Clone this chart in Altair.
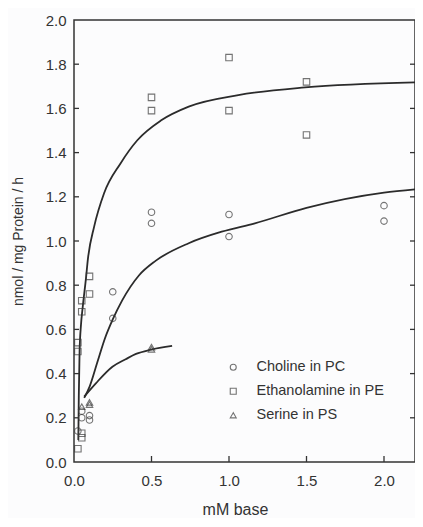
import altair as alt
import pandas as pd

# ---- data ----
series_names = ["Choline in PC", "Ethanolamine in PE", "Serine in PS"]
shapes = ["circle", "square", "triangle-up"]

cho_x = [0.025, 0.05, 0.05, 0.1, 0.1, 0.25, 0.25, 0.5, 0.5, 1.0, 1.0, 2.0, 2.0]
cho_y = [0.14, 0.20, 0.23, 0.19, 0.21, 0.77, 0.65, 1.13, 1.08, 1.12, 1.02, 1.16, 1.09]

eth_x = [0.025, 0.05, 0.05, 0.025, 0.025, 0.05, 0.05, 0.1, 0.1, 0.5, 0.5, 1.0, 1.0, 1.5, 1.5]
eth_y = [0.06, 0.11, 0.13, 0.54, 0.50, 0.73, 0.68, 0.84, 0.76, 1.65, 1.59, 1.83, 1.59, 1.72, 1.48]

ser_x = [0.05, 0.1, 0.1, 0.5, 0.5]
ser_y = [0.25, 0.26, 0.27, 0.52, 0.51]

eth_curve_x = [0.028, 0.031, 0.036, 0.045, 0.056, 0.077, 0.09, 0.13, 0.194, 0.30, 0.41, 0.56, 0.74, 1.06, 1.49, 2.2]
eth_curve_y = [0.10, 0.30, 0.50, 0.62, 0.70, 0.83, 0.92, 1.065, 1.216, 1.351, 1.457, 1.545, 1.608, 1.66, 1.695, 1.718]

cho_curve_x = [0.066, 0.10, 0.15, 0.20, 0.25, 0.31, 0.42, 0.526, 0.74, 0.953, 1.167, 1.5, 2.0, 2.2]
cho_curve_y = [0.29, 0.34, 0.45, 0.56, 0.645, 0.73, 0.845, 0.91, 0.99, 1.042, 1.08, 1.15, 1.219, 1.234]

ser_curve_x = [0.066, 0.141, 0.248, 0.333, 0.40, 0.494, 0.633]
ser_curve_y = [0.296, 0.356, 0.431, 0.465, 0.489, 0.508, 0.525]

y_ticks = [0.0, 0.2, 0.4, 0.6, 0.8, 1.0, 1.2, 1.4, 1.6, 1.8, 2.0]
x_ticks = [0.0, 0.5, 1.0, 1.5, 2.0]
x_label = "mM base"
y_label = "nmol / mg Protein / h"

# ---- tables ----
pts = pd.concat([
    pd.DataFrame({"x": cho_x, "y": cho_y, "s": series_names[0]}),
    pd.DataFrame({"x": eth_x, "y": eth_y, "s": series_names[1]}),
    pd.DataFrame({"x": ser_x, "y": ser_y, "s": series_names[2]}),
])
curves = pd.concat([
    pd.DataFrame({"x": cho_curve_x, "y": cho_curve_y, "c": "cho"}),
    pd.DataFrame({"x": eth_curve_x, "y": eth_curve_y, "c": "eth"}),
    pd.DataFrame({"x": ser_curve_x, "y": ser_curve_y, "c": "ser"}),
])
yt = pd.DataFrame({"v": y_ticks[1:-1]})
xt = pd.DataFrame({"v": x_ticks[1:]})

W, H = 341, 442
PAD_L = 66
FONT = "Liberation Sans"
INK = "#333333"

xs = alt.Scale(domain=[0, 2.2], nice=False, zero=False)
ys = alt.Scale(domain=[0, 2.0], nice=False, zero=False)

x_axis = alt.Axis(
    values=x_ticks, format=".1f", tickSize=0, domain=False, grid=False, labelFlush=False,
    labelFont=FONT, labelFontSize=15, labelColor=INK, labelPadding=11,
    title=x_label, titleFont=FONT, titleFontSize=16, titleFontWeight="normal",
    titleColor=INK, titleX=161, titleY=52, titleBaseline="alphabetic", titleAlign="center")
y_axis = alt.Axis(
    values=y_ticks, format=".1f", tickSize=0, domain=False, grid=False, labelFlush=False,
    labelFont=FONT, labelFontSize=15, labelColor=INK, labelPadding=8,
    title=y_label, titleFont=FONT, titleFontSize=14, titleFontWeight="normal",
    titleColor=INK, titleX=-56, titleY=221, titleAngle=-90, titleAlign="center",
    titleBaseline="middle")

lines = alt.Chart(curves).mark_line(color="#2b2b2b", strokeWidth=1.8, interpolate="monotone").encode(
    x=alt.X("x:Q", scale=xs, axis=x_axis, title=x_label),
    y=alt.Y("y:Q", scale=ys, axis=y_axis, title=y_label),
    detail="c:N",
)

points = alt.Chart(pts).mark_point(filled=False, size=42, strokeWidth=1.1, color="#3a3a3a").encode(
    x=alt.X("x:Q", scale=xs, axis=x_axis, title=x_label),
    y=alt.Y("y:Q", scale=ys, axis=y_axis, title=y_label),
    shape=alt.Shape("s:N", scale=alt.Scale(domain=series_names, range=shapes),
                    legend=alt.Legend(orient="none", legendX=152, legendY=340, title=None,
                                      padding=0, rowPadding=9, labelFont=FONT, labelFontSize=14.5,
                                      labelColor=INK, labelOffset=16, symbolSize=36,
                                      symbolStrokeColor="#3a3a3a", symbolFillColor="transparent",
                                      symbolStrokeWidth=1.1)),
)

left_t = alt.Chart(yt).mark_rule(color=INK, strokeWidth=1.3).encode(
    y=alt.Y("v:Q", scale=ys, axis=y_axis, title=y_label), x=alt.value(0), x2=alt.value(5))
right_t = alt.Chart(yt).mark_rule(color=INK, strokeWidth=1.3).encode(
    y=alt.Y("v:Q", scale=ys, axis=y_axis, title=y_label), x=alt.value(W), x2=alt.value(W - 5))
bot_t = alt.Chart(xt).mark_rule(color=INK, strokeWidth=1.3).encode(
    x=alt.X("v:Q", scale=xs, axis=x_axis, title=x_label), y=alt.value(H), y2=alt.value(H - 6))

chart = alt.layer(lines, points, left_t, right_t, bot_t).properties(
    width=W, height=H,
    autosize=alt.AutoSizeParams(type="none"),
    padding={"left": PAD_L, "top": 12, "right": 0, "bottom": 56},
    background="#fcfcfd",
).configure_view(stroke=INK, strokeWidth=1.5)

chart.save("out.html", embed_options={"renderer": "svg", "actions": False})
